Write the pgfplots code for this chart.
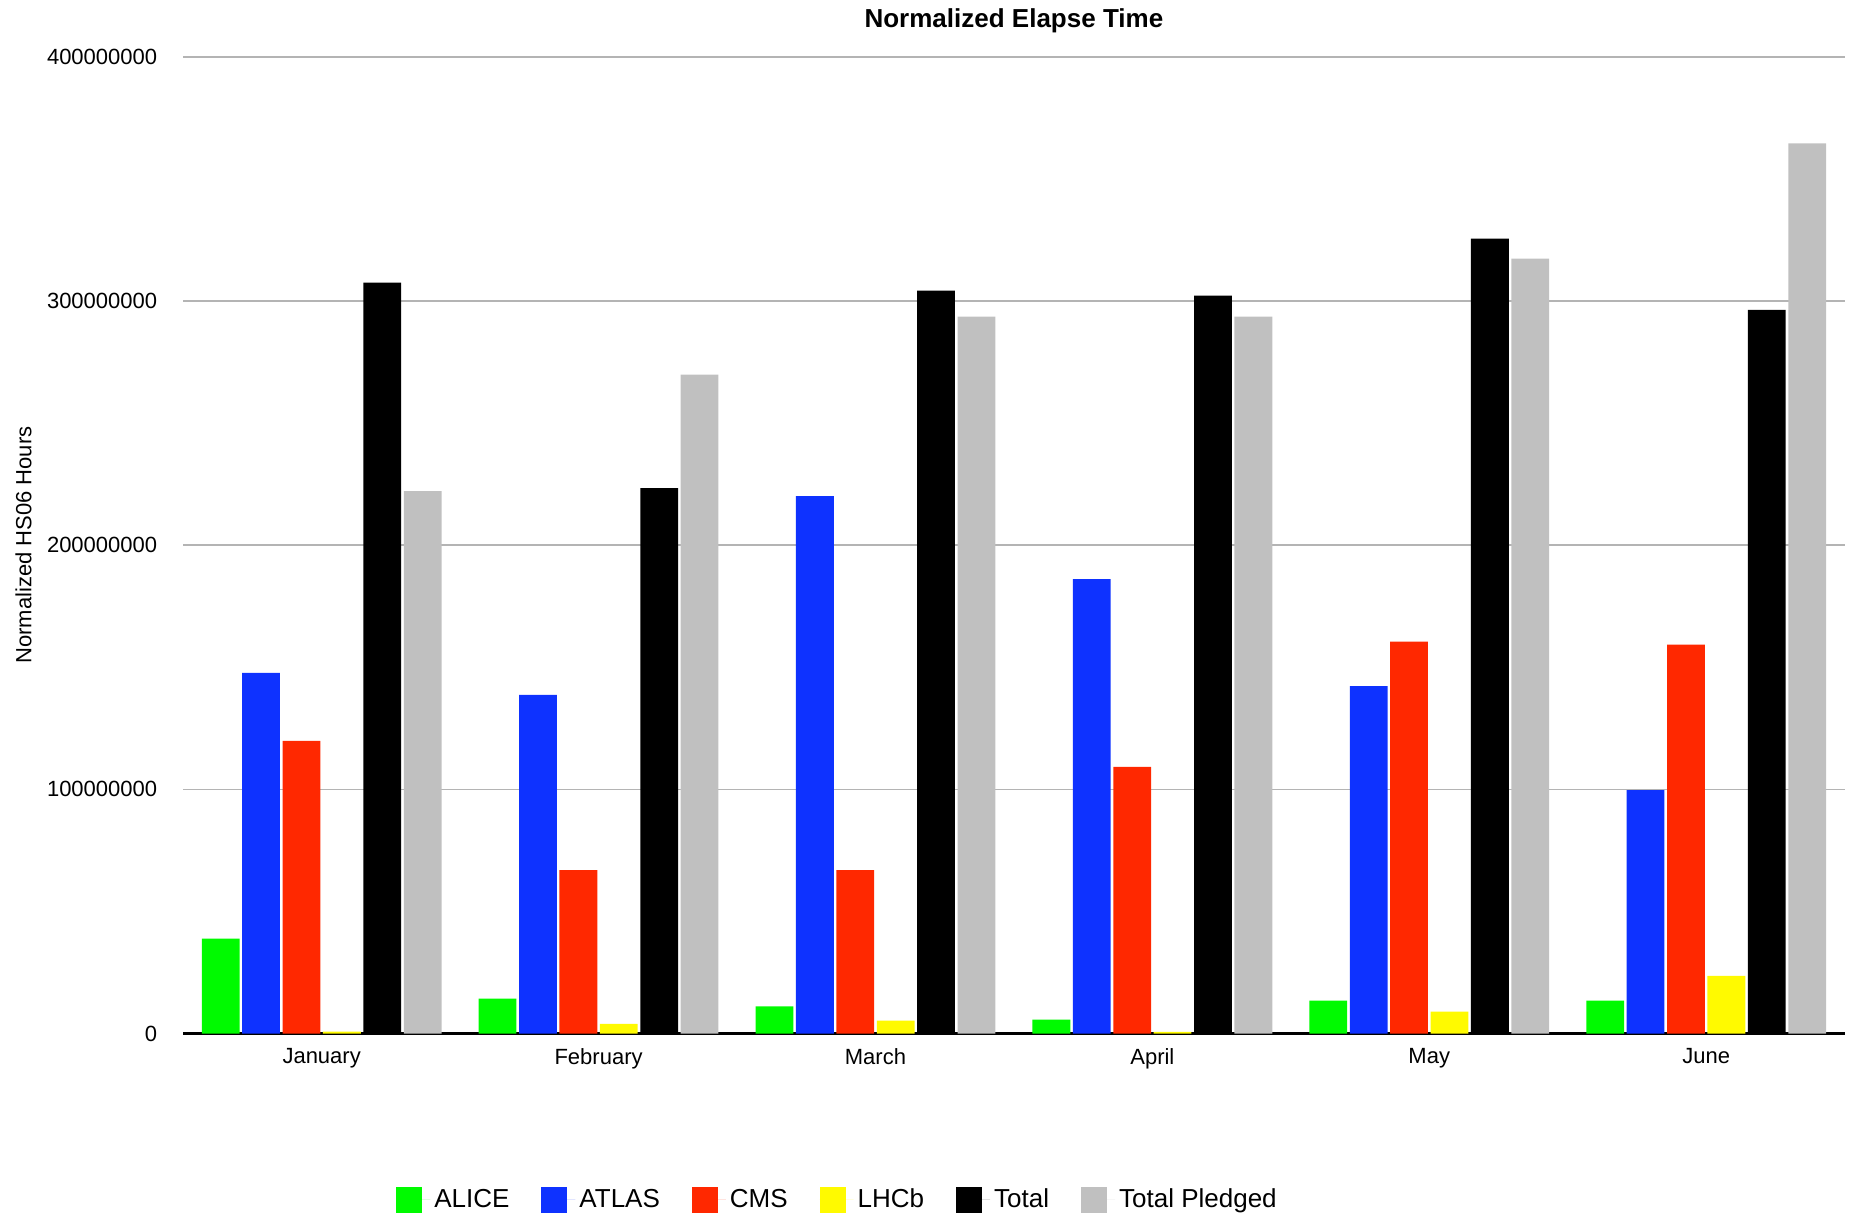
\documentclass[border=0pt]{standalone}
\usepackage{pgfplots}
\pgfplotsset{compat=1.18}
\usepackage{fontspec}
\setmainfont{Liberation Sans}
\definecolor{cAlice}{RGB}{0,250,0}
\definecolor{cAtlas}{RGB}{14,50,255}
\definecolor{cCms}{RGB}{255,40,0}
\definecolor{cLhcb}{RGB}{255,250,0}
\definecolor{cPled}{RGB}{192,192,192}
\definecolor{cGrid}{RGB}{180,180,180}
\begin{document}
\begin{tikzpicture}
\begin{axis}[
  scale only axis,
  width=830.6pt, height=488.3pt,
  ybar=1.3pt, bar width=18.9pt,
  xmin=-0.5, xmax=5.5,
  ymin=0, ymax=400000000,
  xtick={0,1,2,3,4,5},
  xticklabels={January,February,March,April,May,June},
  ytick={0,100000000,200000000,300000000,400000000},
  yticklabels={0,100000000,200000000,300000000,400000000},
  scaled y ticks=false,
  major tick length=0pt,
  axis x line*=bottom, axis y line*=left,
  y axis line style={draw=none},
  x axis line style={black, line width=1.1pt, -},
  ymajorgrids, grid style={cGrid, line width=0.8pt},
  tick label style={font=\fontsize{11}{13}\selectfont},
  yticklabel style={xshift=-9.5pt},
  xticklabel style={yshift=-4pt},
  title={Normalized Elapse Time},
  title style={at={(axis description cs:0.5,1.0246)}, anchor=center, yshift=0pt, font=\bfseries\fontsize{13}{15}\selectfont},
  ylabel={Normalized HS06 Hours},
  ylabel style={at={(axis description cs:-0.0961,0.5)}, anchor=center, xshift=0pt, yshift=0pt, font=\fontsize{11}{13}\selectfont},
  legend columns=6,
  legend style={at={(axis description cs:0.128,-0.170)}, anchor=west, draw=none, fill=none, inner sep=0pt,
    font=\fontsize{13}{15}\selectfont,
    /tikz/every even column/.append style={column sep=14pt}},
  legend image code/.code={\fill[#1] (0pt,-6.5pt) rectangle (13pt,6.5pt); \path (0pt,0pt) -- (17pt,0pt);},
  every axis plot/.append style={draw=none},
]
\coordinate (bl) at (rel axis cs:0,0);
\coordinate (tr) at (rel axis cs:1,1);
\addplot[fill=cAlice] coordinates {(0,38900000) (1,14300000) (2,11100000) (3,5700000) (4,13500000) (5,13500000)};
\addplot[fill=cAtlas] coordinates {(0,147700000) (1,138700000) (2,220100000) (3,186100000) (4,142300000) (5,99700000)};
\addplot[fill=cCms] coordinates {(0,119800000) (1,66900000) (2,66900000) (3,109200000) (4,160500000) (5,159300000)};
\addplot[fill=cLhcb] coordinates {(0,800000) (1,4000000) (2,5300000) (3,700000) (4,9000000) (5,23600000)};
\addplot[fill=black] coordinates {(0,307500000) (1,223400000) (2,304200000) (3,302200000) (4,325500000) (5,296400000)};
\addplot[fill=cPled] coordinates {(0,222100000) (1,269800000) (2,293600000) (3,293600000) (4,317300000) (5,364500000)};
\legend{ALICE,ATLAS,CMS,LHCb,Total,Total Pledged}
\end{axis}
\pgfresetboundingbox
\useasboundingbox ([shift={(-91.6pt,-90.8pt)}]bl) rectangle ([shift={(4.7pt,28.4pt)}]tr);
\end{tikzpicture}
\end{document}
